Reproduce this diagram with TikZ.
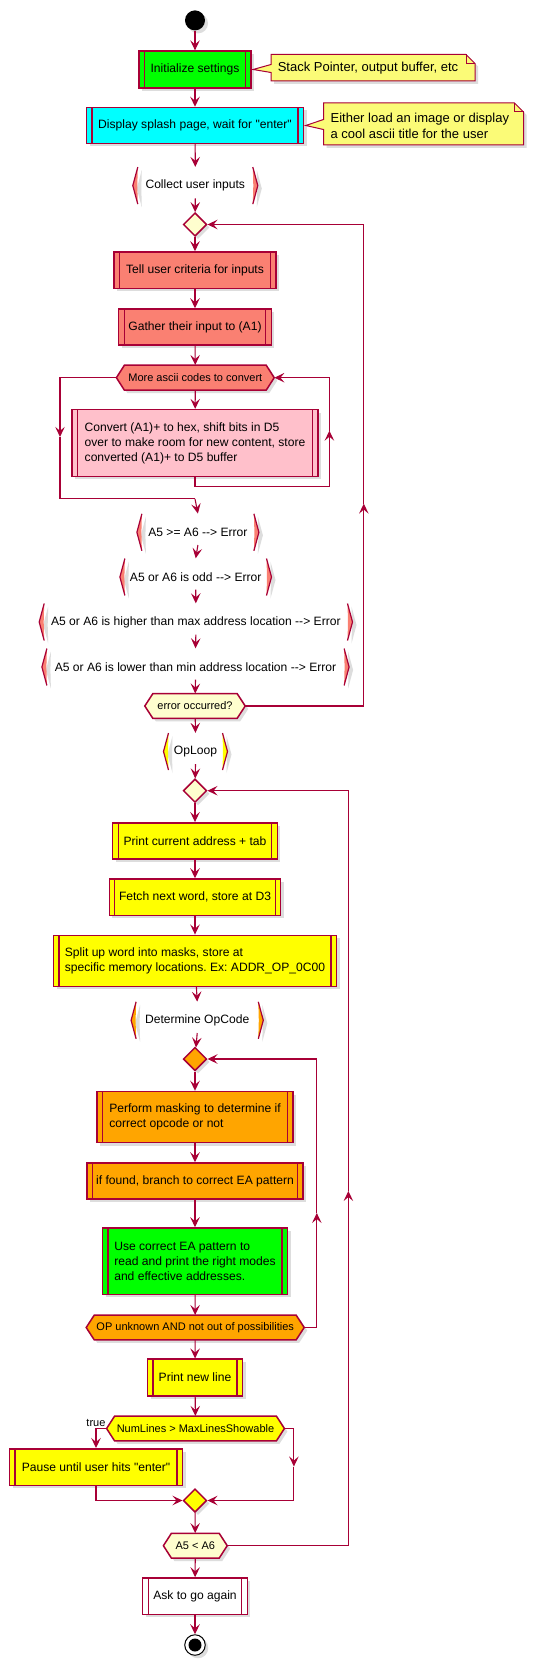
\documentclass[tikz,border=0pt]{standalone}
\usepackage{fontspec}
\setmainfont{Liberation Sans}[Ligatures=TeXOff]
\frenchspacing
\usetikzlibrary{shapes.geometric,shadows,arrows.meta}
\definecolor{bord}{HTML}{A80036}
\definecolor{notec}{HTML}{FBFB77}
\definecolor{decc}{HTML}{FEFECE}
\definecolor{salmonc}{HTML}{FA8072}
\definecolor{pinkc}{HTML}{FFC0CB}
\definecolor{yellowc}{HTML}{FFFF00}
\definecolor{orangec}{HTML}{FFA500}
\definecolor{greenc}{HTML}{00FF00}
\definecolor{cyanc}{HTML}{00FFFF}
\definecolor{shadc}{HTML}{B4B4B4}
\newcommand\fsbox{\fontsize{12.1}{15}\selectfont}
\newcommand\fsnote{\fontsize{13}{16}\selectfont}
\newcommand\fssmall{\fontsize{11}{13}\selectfont}
\tikzset{
  shad/.style={drop shadow={shadow xshift=3pt,shadow yshift=-3pt,opacity=0.45,fill=shadc}},
  proc/.style={draw=bord, line width=1.5pt, inner sep=0pt, font=\fsbox, align=center, shad,
    path picture={
      \draw[bord,line width=1.1pt] ([xshift=5.5pt]path picture bounding box.north west) -- ([xshift=5.5pt]path picture bounding box.south west);
      \draw[bord,line width=1.1pt] ([xshift=-5.5pt]path picture bounding box.north east) -- ([xshift=-5.5pt]path picture bounding box.south east);
    }},
  dec/.style={shape=diamond, draw=bord, line width=1.5pt, inner sep=0pt, minimum width=23.5pt, minimum height=23.5pt, shad},
  arr/.style={draw=bord, line width=1.1pt, -{Stealth[length=10pt,width=9.5pt,inset=4pt]}},
  ln/.style={draw=bord, line width=1.1pt},
}
% hexagon: name, cx, cy, half width, half height, fill, text
\newcommand\hexnode[7]{%
  \fill[shadc,opacity=0.45,shift={(3,3)}] ({#2-#4},#3) -- ({#2-#4+8},{#3-#5}) -- ({#2+#4-8},{#3-#5}) -- ({#2+#4},#3) -- ({#2+#4-8},{#3+#5}) -- ({#2-#4+8},{#3+#5}) -- cycle;
  \draw[bord,line width=1.5pt,fill=#6] ({#2-#4},#3) -- ({#2-#4+8},{#3-#5}) -- ({#2+#4-8},{#3-#5}) -- ({#2+#4},#3) -- ({#2+#4-8},{#3+#5}) -- ({#2-#4+8},{#3+#5}) -- cycle;
  \node[font=\fssmall, inner sep=0pt, minimum width={2*#4pt}, minimum height={2*#5pt}] (#1) at (#2,#3) {#7};
}
% partition label with brackets: name, cy, xl, xr, colour, text
\newcommand\partbr[6]{%
  \fill[shadc,opacity=0.45,shift={(4,3)}] ({#3+5},{#2-18.5}) -- (#3,#2) -- ({#3+5},{#2+18.5}) -- ({#3+4.5},#2) -- cycle;
  \fill[shadc,opacity=0.45,shift={(4,3)}] ({#4-5},{#2-18.5}) -- (#4,#2) -- ({#4-5},{#2+18.5}) -- ({#4-4.5},#2) -- cycle;
  \fill[#5] ({#3+5},{#2-18.5}) -- (#3,#2) -- ({#3+5},{#2+18.5}) -- ({#3+4.5},#2) -- cycle;
  \fill[#5] ({#4-5},{#2-18.5}) -- (#4,#2) -- ({#4-5},{#2+18.5}) -- ({#4-4.5},#2) -- cycle;
  \draw[bord,line width=1.2pt] ({#3+5},{#2-18.5}) -- (#3,#2) -- ({#3+5},{#2+18.5});
  \draw[bord,line width=1.2pt] ({#4-5},{#2-18.5}) -- (#4,#2) -- ({#4-5},{#2+18.5});
  \node[font=\fsbox, inner sep=0pt, minimum height=37pt] (#1) at ({(#3+#4)/2},#2) {#6};
}
\begin{document}
\begin{tikzpicture}[x=1pt,y=-1pt]
\useasboundingbox (0,0) rectangle (534,1661);
\fill[white] (0,0) rectangle (534,1661);

% start
\node[circle, fill=black, minimum size=20pt, inner sep=0pt, shad] (start) at (195,20.4) {};

% boxes
\node[proc, fill=greenc, minimum width=111.7pt, minimum height=36.8pt] (init) at (195,69.5) {Initialize settings};
\node[proc, fill=cyanc, minimum width=217pt, minimum height=36pt] (splash) at (195,125.5) {Display splash page, wait for "enter"};

% note 1
\fill[shadc,opacity=0.45,shift={(3,3)}] (271,54.5) -- (466,54.5) -- (475,63.5) -- (475,81) -- (271,81) -- cycle;
\draw[bord,line width=1pt,fill=notec] (271,54.5) -- (466,54.5) -- (475,63.5) -- (475,81) -- (271,81) -- (271,72.5) -- ([xshift=1.5pt]init.east) -- (271,64.5) -- cycle;
\draw[bord,line width=1pt] (466,54.5) -- (466,63.5) -- (475,63.5);
\node[font=\fsnote, anchor=west, inner sep=0pt] (n1) at (277.6,68) {Stack Pointer, output buffer, etc};

% note 2
\fill[shadc,opacity=0.45,shift={(3,3)}] (323.5,103) -- (514.5,103) -- (523.5,112) -- (523.5,145) -- (323.5,145) -- cycle;
\draw[bord,line width=1pt,fill=notec] (323.5,103) -- (514.5,103) -- (523.5,112) -- (523.5,145) -- (323.5,145) -- (323.5,129.5) -- ([xshift=1.5pt]splash.east) -- (323.5,119.5) -- cycle;
\draw[bord,line width=1pt] (514.5,103) -- (514.5,112) -- (523.5,112);
\node[font=\fsnote, anchor=west, align=left, inner sep=0pt] (n2) at (330.4,126.2) {Either load an image or display\\a cool ascii title for the user};

\partbr{p1}{185.6}{132.8}{257.8}{salmonc}{Collect user inputs}
\node[dec, fill=decc] (d1) at (195,224.5) {};
\node[proc, fill=salmonc, minimum width=161.8pt, minimum height=36.5pt] (tell) at (195,270.2) {Tell user criteria for inputs};
\node[proc, fill=salmonc, minimum width=152.6pt, minimum height=35.8pt] (gather) at (195,326.9) {Gather their input to (A1)};
\hexnode{hex1}{195.3}{377.7}{78.9}{12.5}{salmonc}{More ascii codes to convert}
\node[proc, fill=pinkc, align=left, minimum width=245.6pt, minimum height=66.8pt] (conv) at (195,443) {Convert (A1)+ to hex, shift bits in D5\\over to make room for new content, store\\converted (A1)+ to D5 buffer};

\partbr{p2}{532.3}{136.9}{258.9}{salmonc}{A5 >= A6 -\kern0pt-> Error}
\partbr{p3}{577}{119.9}{271.5}{salmonc}{A5 or A6 is odd -\kern0pt-> Error}
\partbr{p4}{622}{39.2}{352.5}{salmonc}{A5 or A6 is higher than max address location -\kern0pt-> Error}
\partbr{p5}{667}{41.9}{349.1}{salmonc}{A5 or A6 is lower than min address location -\kern0pt-> Error}
\hexnode{hexErr}{195}{706}{50.2}{12.3}{decc}{error occurred?}

\partbr{p6}{751.5}{163.5}{227.5}{yellowc}{OpLoop}
\node[dec, fill=decc] (d2) at (195,790.7) {};
\node[proc, fill=yellowc, minimum width=164.8pt, minimum height=36.4pt] (print) at (195,841) {Print current address + tab};
\node[proc, fill=yellowc, minimum width=171.3pt, minimum height=36.4pt] (fetch) at (195,897.2) {Fetch next word, store at D3};
\node[proc, fill=yellowc, align=left, minimum width=283pt, minimum height=51pt] (split) at (195,960.8) {Split up word into masks, store at\\specific memory locations. Ex: ADDR\_OP\_0C00};

\partbr{p7}{1020.3}{131.1}{263.3}{orangec}{Determine OpCode}
\node[dec, fill=orangec] (d3) at (195,1059) {};
\node[proc, fill=orangec, align=left, minimum width=196pt, minimum height=51pt] (mask) at (195,1117) {Perform masking to determine if\\correct opcode or not};
\node[proc, fill=orangec, minimum width=216pt, minimum height=36pt] (found) at (195,1181) {if found, branch to correct EA pattern};
\node[proc, fill=greenc, align=left, minimum width=185pt, minimum height=66.5pt] (ea) at (195,1261.2) {Use correct EA pattern to\\read and print the right modes\\and effective addresses.};
\hexnode{hexOp}{195.2}{1327.5}{109}{12.3}{orangec}{OP unknown AND not out of possibilities}
\node[proc, fill=yellowc, minimum width=95pt, minimum height=36.8pt] (newline) at (195,1377.6) {Print new line};
\hexnode{hexNum}{195.5}{1428.5}{88.9}{12.4}{yellowc}{NumLines > MaxLinesShowable}
\node[font=\fssmall, anchor=base east, inner sep=0pt] (tl) at (105.6,1426) {true};
\node[proc, fill=yellowc, minimum width=173pt, minimum height=36.5pt] (pause) at (96,1467) {Pause until user hits "enter"};
\node[dec, fill=yellowc] (d4) at (195,1500.5) {};
\hexnode{hexA5}{195.3}{1545.7}{31.9}{12.4}{decc}{A5 < A6}
\node[proc, fill=white, minimum width=104.6pt, minimum height=36.5pt] (again) at (195,1596.2) {Ask to go again};

% end
\node[circle, draw=black, line width=1pt, fill=white, minimum size=20.5pt, inner sep=0pt, shad] (stop) at (195,1645) {};
\node[circle, fill=black, minimum size=13pt, inner sep=0pt] (stopin) at (stop.center) {};

% straight connectors
\draw[arr] (start) -- (init);
\draw[arr] (init) -- (splash);
\draw[arr] (splash) -- (p1.north);
\draw[arr] ([yshift=6pt]p1.south) -- (d1);
\draw[arr] (d1) -- (tell);
\draw[arr] (tell) -- (gather);
\draw[arr] (gather) -- (hex1);
\draw[arr] (hex1) -- (conv);
\draw[arr] ([yshift=6pt]p2.south) -- (p3.north);
\draw[arr] ([yshift=6pt]p3.south) -- (p4.north);
\draw[arr] ([yshift=6pt]p4.south) -- (p5.north);
\draw[arr] ([yshift=6pt]p5.south) -- (hexErr);
\draw[arr] (hexErr) -- (p6.north);
\draw[arr] ([yshift=6pt]p6.south) -- (d2);
\draw[arr] (d2) -- (print);
\draw[arr] (print) -- (fetch);
\draw[arr] (fetch) -- (split);
\draw[arr] (split) -- (p7.north);
\draw[arr] ([yshift=6pt]p7.south) -- (d3);
\draw[arr] (d3) -- (mask);
\draw[arr] (mask) -- (found);
\draw[arr] (found) -- (ea);
\draw[arr] (ea) -- (hexOp);
\draw[arr] (hexOp) -- (newline);
\draw[arr] (newline) -- (hexNum);
\draw[arr] (d4) -- (hexA5);
\draw[arr] (hexA5) -- (again);
\draw[arr] (again) -- (stop);

% loop: inputs
\coordinate (L1m) at (363.8,503.6);
\draw[arr] (hexErr.east) -| (L1m);
\draw[arr] (L1m) |- (d1.east);

% loop: ascii conversion
\coordinate (L2m) at (60,436.9);
\coordinate (L2b) at (195,498.9);
\draw[arr] (hex1.west) -| (L2m);
\draw[ln] (L2m) |- (L2b);
\draw[arr] (L2b) -- (p2.north);
\coordinate (R2a) at (195,486.3);
\coordinate (R2m) at (329.4,430.7);
\draw[arr] (conv.south) -- (R2a) -| (R2m);
\draw[arr] (R2m) |- (hex1.east);

% loop: OpLoop
\coordinate (L3m) at (348.4,1191);
\draw[arr] (hexA5.east) -| (L3m);
\draw[arr] (L3m) |- (d2.east);

% loop: opcode
\coordinate (L4m) at (316.8,1213);
\draw[arr] (hexOp.east) -| (L4m);
\draw[arr] (L4m) |- (d3.east);

% if / else
\draw[arr] (hexNum.west) -| (pause.north);
\coordinate (E1m) at (293.9,1466.5);
\draw[arr] (hexNum.east) -| (E1m);
\draw[arr] (E1m) |- (d4.east);
\draw[arr] (pause.south) |- (d4.west);
\end{tikzpicture}
\end{document}
